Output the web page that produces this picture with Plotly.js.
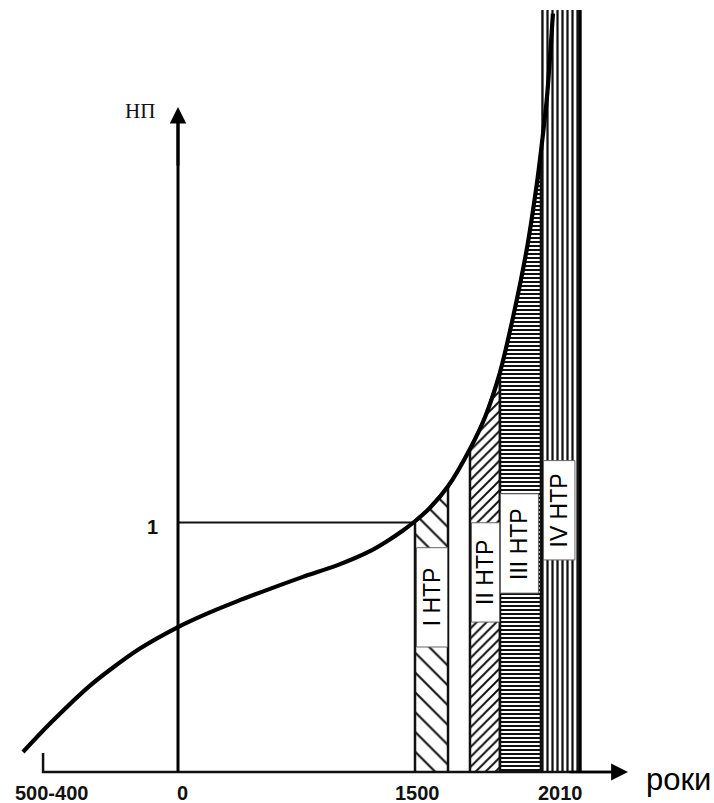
<!DOCTYPE html>
<html><head><meta charset="utf-8">
<script src="https://cdn.plot.ly/plotly-3.0.1.min.js"></script>
<style>html,body{margin:0;padding:0;background:#fff}#chart{width:714px;height:803px}</style>
</head><body><div id="chart"></div>
<script>
// ---- data (schematic time units on x, НП on y) ----
const curveYears = [-981, -810, -557, -430, -241, 0, 158, 373, 582, 791, 1006, 1215, 1323, 1424, 1500, 1595, 1709, 1848, 1943, 2038, 2120, 2209, 2272, 2297, 2335, 2373];
const curveNP    = [0.080, 0.194, 0.346, 0.410, 0.495, 0.581, 0.628, 0.684, 0.734, 0.782, 0.828, 0.885, 0.925, 0.968, 1.005, 1.059, 1.145, 1.295, 1.422, 1.602, 1.821, 2.101, 2.362, 2.487, 2.703, 3.040];
const eraNames = ['I НТР', 'II НТР', 'III НТР', 'IV НТР'];
const eraStart = [1500, 1848, 2038, 2304];
const eraEnd   = [1709, 2038, 2297, 2544];
const eraIVTop = 3.054;
const refLevel = 1;
const tickPos    = [-854, 0, 1500, 2418];
const tickLabels = ['500-400', '0', '1500', '2010'];
const yTickPos    = [1];
const yTickLabels = ['1'];
const axisXStart = -854, axisXEnd = 2848, axisYTop = 2.665;

// ---- styling / layout constants ----
const UPX = 1500 / 237;          // x units per pixel
const VPX = 1 / 249.5;           // y units per pixel
const patterns = [
  {shape: '\\', size: 14, solidity: 0.15},
  {shape: '/',  size: 7,  solidity: 0.28},
  {shape: '-',  size: 4,  solidity: 0.5},
  {shape: '|',  size: 5,  solidity: 0.45}
];
const boxLow = [0.501, 0.601, 0.717, 0.850];
const boxH = 0.398;
const boxInsetL = [1.5, 1.5, 0.5, 1.5];
const boxInsetR = [0.5, 0.5, 2.5, 5];

const traces = [];
eraNames.forEach((name, i) => {
  let xs, ys;
  if (i < 3) {
    xs = [eraStart[i]]; ys = [0];
    curveYears.forEach((x, k) => { if (x >= eraStart[i] && x <= eraEnd[i]) { xs.push(x); ys.push(curveNP[k]); } });
    xs.push(eraEnd[i]); ys.push(0);
  } else {
    xs = [eraStart[i], eraStart[i], eraEnd[i], eraEnd[i]];
    ys = [eraIVTop, 0, 0, eraIVTop];
  }
  traces.push({
    x: xs, y: ys, mode: 'lines', fill: 'toself', hoverinfo: 'skip',
    line: {color: '#111', width: i === 3 ? 1.5 : 2.5},
    fillcolor: '#fff',
    fillpattern: Object.assign({fgcolor: '#111', bgcolor: '#fff', fillmode: 'replace'}, patterns[i])
  });
});
// thick right edge of era IV
traces.push({x: [eraEnd[3], eraEnd[3]], y: [0, eraIVTop], mode: 'lines', line: {color: '#000', width: 3.5}, hoverinfo: 'skip'});
// reference line at НП = 1
traces.push({x: [0, 1500], y: [refLevel, refLevel], mode: 'lines', line: {color: '#111', width: 2}, hoverinfo: 'skip'});
// x axis small start tick + line
traces.push({x: [axisXStart, axisXStart, axisXEnd - 10 * UPX], y: [19 * VPX, 0, 0], mode: 'lines', line: {color: '#111', width: 2.5}, hoverinfo: 'skip'});
// y axis line
traces.push({x: [0, 0], y: [0, axisYTop - 10 * VPX], mode: 'lines', line: {color: '#000', width: 3}, hoverinfo: 'skip'});
// the curve
traces.push({x: curveYears, y: curveNP, mode: 'lines', line: {color: '#000', width: 4.2, shape: 'spline', smoothing: 0.8}, hoverinfo: 'skip'});

const shapes = eraNames.map((n, i) => ({
  type: 'rect', layer: 'above', xref: 'x', yref: 'y',
  x0: eraStart[i] + boxInsetL[i] * UPX, x1: eraEnd[i] - boxInsetR[i] * UPX,
  y0: boxLow[i], y1: boxLow[i] + boxH,
  fillcolor: '#fff', line: {color: '#666', width: 1}
}));

const sans = 'Liberation Sans, Arial, sans-serif';
const annotations = [];
// axis arrows
annotations.push({x: axisXEnd, y: 0, ax: axisXEnd - 60 * UPX, ay: 0, axref: 'x', ayref: 'y', xref: 'x', yref: 'y',
  text: '', showarrow: true, arrowhead: 2, arrowsize: 1.35, arrowwidth: 2.5, arrowcolor: '#000', standoff: 0});
annotations.push({x: 0, y: axisYTop, ax: 0, ay: axisYTop - 60 * VPX, axref: 'x', ayref: 'y', xref: 'x', yref: 'y',
  text: '', showarrow: true, arrowhead: 2, arrowsize: 1.1, arrowwidth: 3, arrowcolor: '#000', standoff: 0});
// tick labels
const tickShift = [8, 4, 2, 0];
tickPos.forEach((p, i) => annotations.push({x: p, y: 0, xref: 'x', yref: 'y', text: tickLabels[i], showarrow: false,
  xanchor: 'center', yanchor: 'middle', xshift: tickShift[i], yshift: -21,
  font: {family: sans, size: 20, weight: 'bold', color: '#111'}}));
yTickPos.forEach((p, i) => annotations.push({x: 0, y: p, xref: 'x', yref: 'y', text: yTickLabels[i], showarrow: false,
  xanchor: 'center', yanchor: 'middle', xshift: -26, yshift: -4,
  font: {family: sans, size: 20, weight: 'bold', color: '#111'}}));
// axis titles
annotations.push({x: 0, y: axisYTop, xref: 'x', yref: 'y', text: 'НП', showarrow: false, xanchor: 'center', yanchor: 'middle',
  xshift: -38, yshift: -4, font: {family: 'Liberation Serif, Times New Roman, serif', size: 21, color: '#111'}});
annotations.push({x: axisXEnd, y: 0, xref: 'x', yref: 'y', text: 'роки', showarrow: false, xanchor: 'left', yanchor: 'middle',
  xshift: 16, yshift: -7, font: {family: sans, size: 31, color: '#000'}});
// era labels
eraNames.forEach((n, i) => annotations.push({
  x: (eraStart[i] + boxInsetL[i] * UPX + eraEnd[i] - boxInsetR[i] * UPX) / 2, y: boxLow[i] + boxH / 2,
  xref: 'x', yref: 'y', text: n, showarrow: false, textangle: -90, xanchor: 'center', yanchor: 'middle',
  font: {family: sans, size: 23, color: '#000'}}));

const layout = {
  width: 714, height: 803, autosize: false,
  margin: {l: 0, r: 0, t: 0, b: 0, pad: 0},
  paper_bgcolor: '#fff', plot_bgcolor: '#fff', showlegend: false,
  xaxis: {visible: false, range: [-178 * UPX, 536 * UPX], fixedrange: true},
  yaxis: {visible: false, range: [-31 * VPX, 772 * VPX], fixedrange: true},
  shapes: shapes, annotations: annotations
};
Plotly.newPlot('chart', traces, layout, {displayModeBar: false, staticPlot: true});
</script></body></html>
